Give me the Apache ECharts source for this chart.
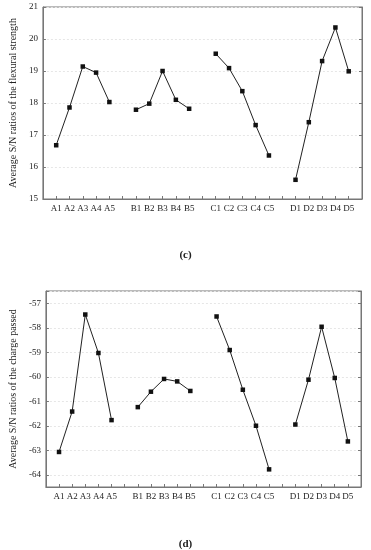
<!DOCTYPE html>
<html>
<head>
<meta charset="utf-8">
<script src="https://cdn.jsdelivr.net/npm/echarts@6/dist/echarts.min.js"></script>
<style>
html,body{margin:0;padding:0;background:#fff;}
#c{width:371px;height:550px;}
</style>
</head>
<body>
<div id="c"></div>
<script>
const categories = ['', 'A1','A2','A3','A4','A5', '', 'B1','B2','B3','B4','B5', '', 'C1','C2','C3','C4','C5', '', 'D1','D2','D3','D4','D5', ''];
const flexuralSN = [null, 16.68, 17.86, 19.14, 18.95, 18.03, null, 17.79, 17.98, 19.00, 18.10, 17.82, null, 19.54, 19.09, 18.37, 17.31, 16.36, null, 15.60, 17.40, 19.31, 20.36, 18.99, null];
const chargeSN = [null, -63.07, -61.42, -57.46, -59.03, -61.77, null, -61.24, -60.61, -60.09, -60.19, -60.58, null, -57.54, -58.91, -60.53, -62.00, -63.78, null, -61.95, -60.12, -57.96, -60.05, -62.64, null];
const yNameTop = 'Average S/N ratios of the flexural strength';
const yNameBottom = 'Average S/N ratios of the charge passed';
const panelLabels = ['(c)', '(d)'];

const FONT = 'Liberation Serif';
const AX = '#777';
const labelStyle = {color: '#222', fontFamily: FONT, fontSize: 9};

function xAxis(gi) {
  return {
    type: 'category', gridIndex: gi, data: categories, boundaryGap: false,
    axisLine: {lineStyle: {color: AX, width: 1}},
    axisTick: {inside: true, length: 3, interval: 0, lineStyle: {color: AX}},
    axisLabel: Object.assign({interval: 0, margin: 5}, labelStyle),
    splitLine: {show: false}
  };
}
function yAxis(gi, min, max, opts, name) {
  return Object.assign({
    type: 'value', gridIndex: gi, min: min, max: max,
    name: name, nameLocation: 'middle', nameGap: 21,
    nameTextStyle: {color: '#222', fontFamily: FONT, fontSize: 10},
    axisLine: {show: true, lineStyle: {color: AX, width: 1}},
    axisTick: {show: true, inside: true, length: 3, lineStyle: {color: AX}},
    axisLabel: Object.assign({margin: 5, formatter: v => Number.isInteger(v) ? String(v) : ''}, labelStyle),
    splitLine: {show: true, lineStyle: {color: '#e6e6e6', type: [2, 2], width: 1}}
  }, opts);
}
function yRight(gi, min, max, opts) {
  return Object.assign({
    type: 'value', gridIndex: gi, min: min, max: max, position: 'right',
    axisLine: {show: true, lineStyle: {color: AX, width: 1}},
    axisTick: {show: true, inside: true, length: 3, lineStyle: {color: AX}},
    axisLabel: {show: false},
    splitLine: {show: false}
  }, opts);
}
function series(xi, yi, data) {
  return {
    type: 'line', xAxisIndex: xi, yAxisIndex: yi, data: data,
    connectNulls: false, symbol: 'rect', symbolSize: 4.5,
    lineStyle: {color: '#222', width: 1}, itemStyle: {color: '#111'},
    emphasis: {disabled: true}
  };
}

const chart = echarts.init(document.getElementById('c'), null, {renderer: 'canvas'});
chart.setOption({
  animation: false,
  backgroundColor: '#fff',
  title: [
    {text: panelLabels[0], left: 'center', top: 245, textStyle: {fontFamily: FONT, fontSize: 11, fontWeight: 'bold', color: '#222'}},
    {text: panelLabels[1], left: 'center', top: 534, textStyle: {fontFamily: FONT, fontSize: 11, fontWeight: 'bold', color: '#222'}}
  ],
  grid: [
    {left: 36, right: 9, top: 7, height: 192, show: true, borderColor: AX, borderWidth: 1},
    {left: 33, right: 10, top: 291, height: 196, show: true, borderColor: AX, borderWidth: 1}
  ],
  xAxis: [xAxis(0), xAxis(1)],
  yAxis: [
    yAxis(0, 15, 21, {interval: 1}, yNameTop),
    yAxis(1, -64.5, -56.5, {splitNumber: 8}, yNameBottom),
    yRight(0, 15, 21, {interval: 1}),
    yRight(1, -64.5, -56.5, {splitNumber: 8})
  ],
  series: [
    series(0, 0, flexuralSN),
    series(1, 1, chargeSN)
  ]
});
</script>
</body>
</html>
